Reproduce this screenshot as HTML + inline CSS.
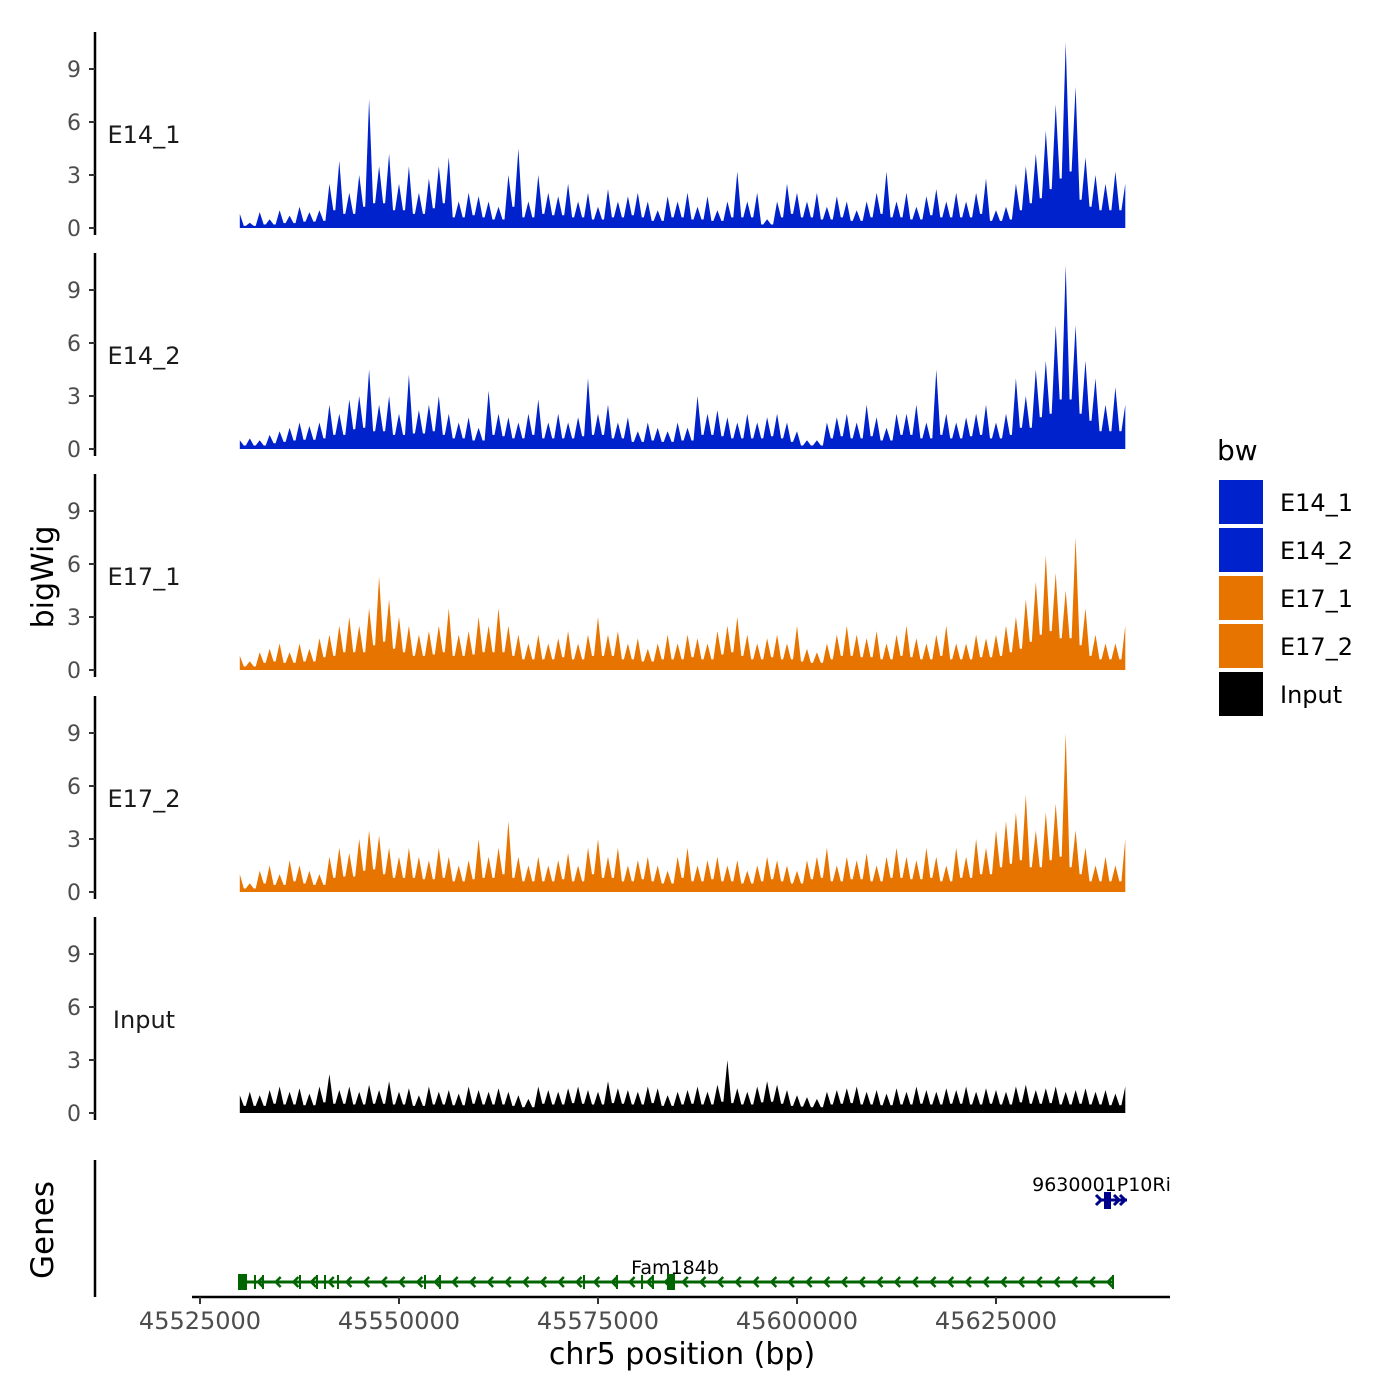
<!DOCTYPE html>
<html><head><meta charset="utf-8">
<style>
html,body{margin:0;padding:0;background:#fff;}
svg{display:block;font-family:"DejaVu Sans","Liberation Sans",sans-serif;}
</style></head>
<body>
<svg id="chart" width="1400" height="1400" viewBox="0 0 1400 1400" xmlns="http://www.w3.org/2000/svg">
<defs><clipPath id="gclip"><rect x="0" y="1150" width="1170" height="60"/></clipPath></defs>
<rect width="1400" height="1400" fill="#fff"/>
<g id="tracks"></g>
<g id="genes"></g>
<text x="53" y="577" font-size="30" text-anchor="middle" transform="rotate(-90 53 577)">bigWig</text>
<text x="53" y="1230" font-size="31" text-anchor="middle" transform="rotate(-90 53 1230)">Genes</text>
<text x="682" y="1364" font-size="30" text-anchor="middle">chr5 position (bp)</text>
<g>
<text x="1217" y="460" font-size="28">bw</text>
<rect x="1219" y="480" width="44" height="44" fill="#0022CC"/>
<text x="1280" y="511" font-size="24">E14_1</text>
<rect x="1219" y="528" width="44" height="44" fill="#0022CC"/>
<text x="1280" y="559" font-size="24">E14_2</text>
<rect x="1219" y="576" width="44" height="44" fill="#E87400"/>
<text x="1280" y="607" font-size="24">E17_1</text>
<rect x="1219" y="624" width="44" height="44" fill="#E87400"/>
<text x="1280" y="655" font-size="24">E17_2</text>
<rect x="1219" y="672" width="44" height="44" fill="#000"/>
<text x="1280" y="703" font-size="24">Input</text>
</g>
</svg>
<script>
const trackNames = ["E14_1","E14_2","E17_1","E17_2","Input"];
const trackColors = ["#0022CC","#0022CC","#E87400","#E87400","#000000"];
const startBp = 45530000;
const stepBp = 1250;
const yTicks = [0,3,6,9];
const xTicks = [45525000,45550000,45575000,45600000,45625000];
const e14_1 = [0.8,0.3,0.9,0.5,1.0,0.7,1.2,0.9,1.0, 2.5,3.8,2.0,3.0, 7.3, 3.5,4.2,2.5,3.5,2.0,2.8,3.5, 4.0, 1.5,2.0,1.8,1.5,1.2, 3.0,4.5, 1.5,3.0,2.0,1.8,2.5,1.5,2.0,1.2,2.2,1.5,1.8,2.0,1.5,1.0,1.8,1.5,2.0,1.2,1.8,1.0,1.5, 3.2, 1.5,2.0,0.5,1.5, 2.5, 2.0,1.5,2.0,1.2,1.8,1.5,1.0,1.5,2.0, 3.2, 1.5,2.0,1.2,1.8,2.2,1.5,2.0,1.5,2.0, 2.8, 1.0,1.2,2.5, 3.5,4.2,5.5,7.0, 10.5, 8.0, 4.0, 3.0,2.5,3.2,2.5];
const e14_2 = [0.5,0.6,0.5,0.8,1.0,1.2,1.5,1.3,1.5, 2.5,2.0,2.8,3.0,4.5,2.5,3.0,2.0,4.2,2.2,2.5,3.0, 2.0,1.5,1.8,1.2, 3.3,2.0,1.8,1.5,2.0,2.8,1.5,2.0,1.5,1.8, 4.0,2.0,2.5,1.5,1.8,1.0,1.5,1.2,1.0,1.5,1.2, 3.0,2.0,2.2,1.8,1.5,2.0,1.5,1.8,2.0,1.5,1.0,0.5,0.5, 1.5,1.8,2.0,1.5,2.5,1.8,1.2,2.0, 2.0,2.5,1.5,4.5,2.0,1.5,1.8,2.0,2.5,1.5, 2.0,4.0,3.0,4.5,5.0,7.0, 10.4,7.0,5.0,4.0,2.5,3.5,2.5];
const e17_1 = [0.8,0.5,1.0,1.2,1.5,1.0,1.5,1.2,1.8, 2.0,2.5,3.0,2.5,3.5,5.3,4.0,3.0,2.5,2.0,2.2, 2.5,3.5,2.0,2.2,3.0,2.5, 3.5,2.5,2.0,1.5,2.0,1.5,1.8,2.2,1.5,2.0, 3.0,2.0,2.2,1.5,1.8,1.2,1.5,2.0,1.5,2.0,1.8,1.5,2.2, 2.5,3.0,2.0,1.5,1.8,2.0,1.5,2.5,1.2,1.0, 1.5,2.0,2.5,2.0,1.8,2.2,1.5,2.0,2.5,1.8,1.5,2.0,2.5,1.5, 1.5,2.0,1.8, 2.0,2.5,3.0,4.0,5.0,6.5,5.5,4.5,7.5,3.5,2.0,1.5,1.5,2.5];
const e17_2 = [1.0,0.5,1.2,1.5,1.0,1.8,1.5,1.2,1.0, 2.0,2.5,2.2,3.0,3.5,3.2,2.5,2.0,2.5,2.0,1.8, 2.5,2.0,1.5,1.8,3.0,2.0,2.5,4.0,2.0,1.5, 2.0,1.5,1.8,2.2,1.5,2.5,3.0,2.0,2.5,1.5, 1.8,2.0,1.5,1.2,2.0,2.5,1.5,1.8,2.0,1.5, 1.8,1.2,1.5,2.0,1.8,1.5,1.2,1.8,2.0,2.5, 1.5,2.0,1.8,2.2,1.5,2.0,2.5,2.0,1.8,2.5, 2.0,1.5,2.5,2.0,3.0,2.5,3.5,4.0,4.5,5.5, 3.5,4.5,5.0,9.0,3.5,2.5,1.5,2.0,1.5,3.0];
const inputSig = [1.0,1.2,1.0,1.3,1.5,1.2,1.4,1.1,1.5,2.2,1.3,1.5,1.2,1.6,1.3,1.8,1.2,1.4,1.0,1.5,1.2,1.3,1.1,1.5,1.3,1.2,1.4,1.2,1.0,0.8,1.5,1.3,1.2,1.4,1.5,1.3,1.2,1.8,1.4,1.3,1.2,1.5,1.4,1.0,1.2,1.3,1.5,1.2,1.6,3.0,1.4,1.2,1.5,1.8,1.6,1.3,1.0,0.9,0.8,1.2,1.3,1.4,1.5,1.2,1.3,1.1,1.4,1.2,1.5,1.3,1.2,1.4,1.3,1.5,1.2,1.4,1.3,1.2,1.5,1.6,1.3,1.4,1.5,1.2,1.3,1.4,1.2,1.3,1.1,1.5];
const trackData = [e14_1,e14_2,e17_1,e17_2,inputSig];

const NS = "http://www.w3.org/2000/svg";
function xScale(bp){ return 200 + (bp - 45525000) * 796 / 100000; }
const zeroY = [228,449,670,892,1113];
const unitPx = (228-69)/9;
function mk(tag, attrs, parent){ const e=document.createElementNS(NS,tag); for(const k in attrs) e.setAttribute(k,attrs[k]); parent.appendChild(e); return e; }

const tracksG = document.getElementById('tracks');
trackData.forEach((vals, t) => {
  const y0 = zeroY[t];
  const yS = v => y0 - v * unitPx;
  const g = mk('g', {}, tracksG);
  
  
  const ax = mk('line', {x1:95,x2:95,y1:y0-196,y2:y0+7,stroke:'#000','stroke-width':2.5}, g);
  
  
  yTicks.forEach(v => {
    const tk = mk('line', {x1:89,x2:95,y1:yS(v),y2:yS(v),stroke:'#333','stroke-width':2}, g);
    
    
    const tl = mk('text', {x:81,y:yS(v)+8,'font-size':22,'text-anchor':'end',fill:'#4d4d4d'}, g);
    tl.textContent = v;
    
    
  });
  const lb = mk('text', {x:144,y:y0-85,'font-size':24,'text-anchor':'middle',fill:'#1a1a1a'}, g);
  lb.textContent = trackNames[t];
  
  
  // spiky area: peaks at data points, narrow dips drawn between them
  let d = 'M' + xScale(startBp).toFixed(1) + ',' + y0;
  vals.forEach((v,i) => {
    const x = xScale(startBp + i*stepBp);
    d += ' L' + x.toFixed(1) + ',' + yS(v).toFixed(1);
    if (i < vals.length-1) {
      const xm = xScale(startBp + (i+0.5)*stepBp);
      const dip = 0.4 * Math.min(v, vals[i+1]);
      d += ' L' + (xm-1).toFixed(1) + ',' + yS(dip).toFixed(1) + ' L' + (xm+1).toFixed(1) + ',' + yS(dip).toFixed(1);
    }
  });
  d += ' L' + xScale(startBp + (vals.length-1)*stepBp).toFixed(1) + ',' + y0 + ' Z';
  const ar = mk('path', {d:d, fill:trackColors[t]}, g);
  
  
});

const gg = document.getElementById('genes');
const gax = mk('line', {x1:95,x2:95,y1:1160,y2:1297,stroke:'#000','stroke-width':2.5}, gg);


const xax = mk('line', {x1:192,x2:1170,y1:1297,y2:1297,stroke:'#000','stroke-width':2.5}, gg);


xTicks.forEach(v => {
  const x = xScale(v);
  const tk = mk('line', {x1:x,x2:x,y1:1297,y2:1304,stroke:'#333','stroke-width':2}, gg);
  
  
  const tl = mk('text', {x:x,y:1329,'font-size':24,'text-anchor':'middle',fill:'#4d4d4d'}, gg);
  tl.textContent = v;
  
  
});
const green = '#006400';
const gl = mk('line', {x1:240,x2:1113,y1:1282,y2:1282,stroke:green,'stroke-width':3}, gg);


for (let x = 258; x < 1110; x += 17.7) {
  const ch = mk('path', {d:`M${x+5},${1277} L${x},${1282} L${x+5},${1287}`, stroke:green,'stroke-width':2.5,fill:'none'}, gg);
  
  
}
[255,263,300,317,325,338,425,440,584,617,642,653,1113].forEach(x => {
  const e = mk('line', {x1:x,x2:x,y1:1275,y2:1289,stroke:green,'stroke-width':2}, gg);
  
  
});
const ex1 = mk('rect', {x:238,y:1274,width:9,height:16,fill:green}, gg);


const ex2 = mk('rect', {x:667,y:1274,width:8,height:16,fill:green}, gg);


const fl = mk('text', {x:675,y:1274,'font-size':19,'text-anchor':'middle',fill:'#000'}, gg);
fl.textContent = 'Fam184b';


const navy = '#00008B';
const rl = mk('text', {x:1107,y:1191,'font-size':19,'text-anchor':'middle',fill:'#000','clip-path':'url(#gclip)'}, gg);
rl.textContent = '9630001P10Rik';


const rline = mk('line', {x1:1100,x2:1127,y1:1200,y2:1200,stroke:navy,'stroke-width':3}, gg);


const rex = mk('rect', {x:1104,y:1192,width:7,height:17,fill:navy}, gg);


[1100,1118,1124].forEach(x => {
  const a = mk('path', {d:`M${x-4},1195 L${x+1},1200 L${x-4},1205`, stroke:navy,'stroke-width':3,fill:'none'}, gg);
  
  
});
</script>
</body></html>
